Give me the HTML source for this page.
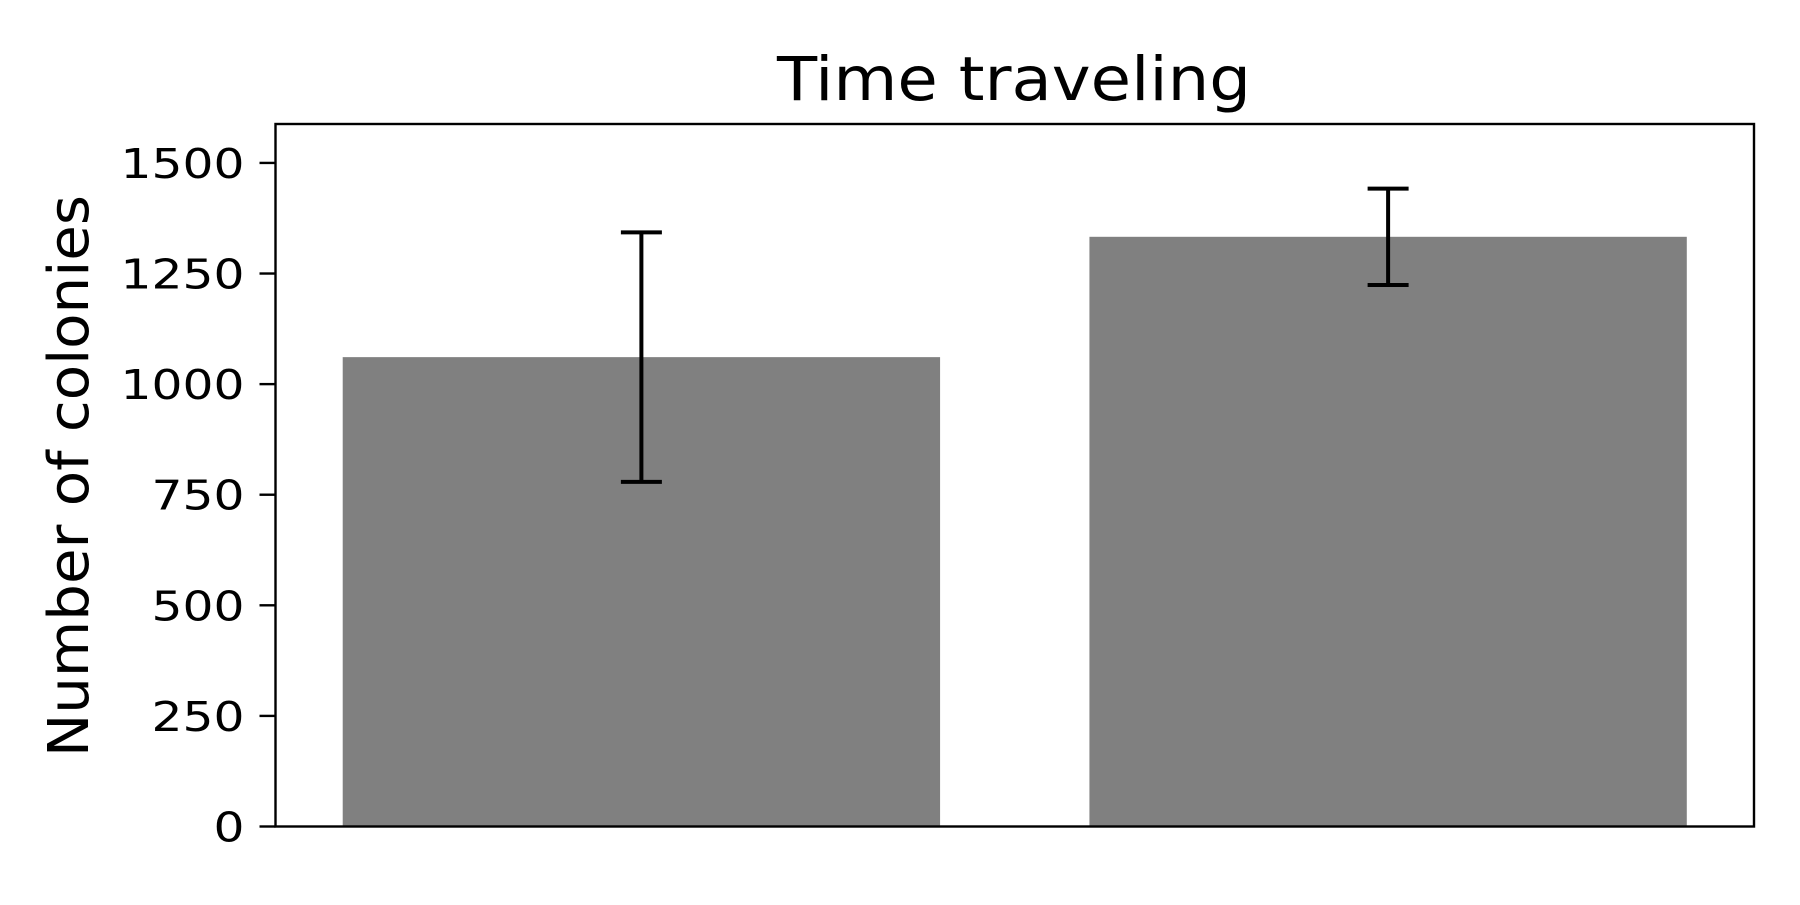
<!DOCTYPE html>
<html><head><meta charset="utf-8"><style>
html,body{margin:0;padding:0;background:#fff;}
svg text{font-family:"DejaVu Sans","Liberation Sans",sans-serif;fill:#000;}
</style></head><body>
<svg id="chart" width="1800" height="900" viewBox="0 0 1800 900" xmlns="http://www.w3.org/2000/svg">
<rect width="1800" height="900" fill="#fff"/>
<text x="1014" y="100" font-size="61" text-anchor="middle" textLength="474" lengthAdjust="spacingAndGlyphs">Time traveling</text>
<text transform="translate(88,476) rotate(-90)" font-size="56" text-anchor="middle" textLength="562" lengthAdjust="spacingAndGlyphs">Number of colonies</text>
<g id="plot"></g>
</svg>
<script>
const categories = ["A", "B"];
const values = [1061, 1333];
const errors = [282, 109];
const yTicks = [0, 250, 500, 750, 1000, 1250, 1500];

const L = 275.5, R = 1754, T = 124, B = 826.5;
const xMin = -0.49, xMax = 1.49, yMin = 0, yMax = 1588;
const xs = v => L + (v - xMin) / (xMax - xMin) * (R - L);
const ys = v => B - (v - yMin) / (yMax - yMin) * (B - T);
const NS = "http://www.w3.org/2000/svg";
const g = document.getElementById("plot");
function mk(tag, attrs) { const e = document.createElementNS(NS, tag); for (const k in attrs) e.setAttribute(k, attrs[k]); g.appendChild(e); return e; }

categories.forEach((c, i) => {
  const x0 = xs(i - 0.4), x1 = xs(i + 0.4);
  const bar = mk("rect", {x: x0, y: ys(values[i]), width: x1 - x0, height: ys(0) - ys(values[i]), fill: "#808080"});
  
  
  const cx = xs(i), top = ys(values[i] + errors[i]), bot = ys(values[i] - errors[i]);
  const eg = document.createElementNS(NS, "g");
  
  
  g.appendChild(eg);
  [[cx, top, cx, bot], [cx - 20.5, top, cx + 20.5, top], [cx - 20.5, bot, cx + 20.5, bot]].forEach(p => {
    const l = document.createElementNS(NS, "line");
    l.setAttribute("x1", p[0]); l.setAttribute("y1", p[1]); l.setAttribute("x2", p[2]); l.setAttribute("y2", p[3]);
    l.setAttribute("stroke", "#000"); l.setAttribute("stroke-width", "4");
    eg.appendChild(l);
  });
});

yTicks.forEach(t => {
  const y = ys(t);
  const tk = mk("line", {x1: L - 16, y1: y, x2: L, y2: y, stroke: "#000", "stroke-width": 2.4});
  
  
  const s = String(t);
  const lb = mk("text", {x: L - 31, y: y + 15, "font-size": 41, "text-anchor": "end", textLength: 31 * s.length, lengthAdjust: "spacingAndGlyphs"});
  lb.textContent = s;
  
  
});

const frame = mk("rect", {x: L, y: T, width: R - L, height: B - T, fill: "none", stroke: "#000", "stroke-width": 2.4});


</script>
</body></html>
